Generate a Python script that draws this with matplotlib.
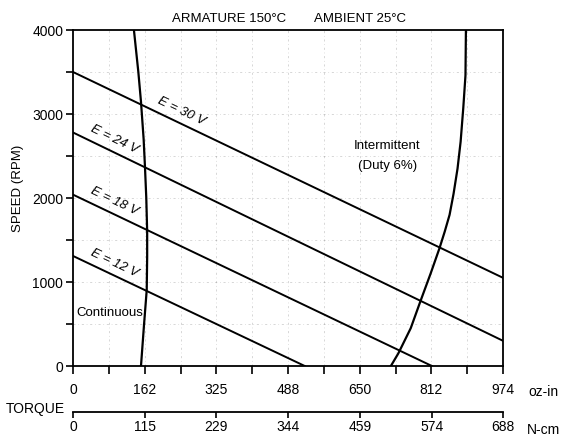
import numpy as np
import matplotlib
matplotlib.use('Agg')
import matplotlib.pyplot as plt

plt.rcParams['font.family'] = ['Liberation Sans', 'DejaVu Sans']

# Curvas de velocidade x torque para cada tensão (oz-in, RPM)
tensoes = ['E = 30 V', 'E = 24 V', 'E = 18 V', 'E = 12 V']
torque_ini = [0, 0, 0, 0]
rpm_ini = [3500, 2780, 2040, 1310]
torque_fim = [974, 974, 813, 525]
rpm_fim = [1050, 300, 0, 0]
# posição (torque) do rótulo de cada reta
torque_rotulo = [245, 93, 93, 93]

# Limite de operação contínua
cont_torque = [138, 148, 154, 160, 163, 166, 168, 168, 167, 161, 154]
cont_rpm = [4000, 3500, 3146, 2700, 2373, 2000, 1599, 1300, 905, 500, 0]

# Limite de operação intermitente (duty 6%)
int_torque = [890, 889, 884, 878, 871, 862, 853, 842, 830, 810, 788, 765, 737, 720]
int_rpm = [4000, 3460, 3070, 2670, 2350, 2050, 1800, 1600, 1400, 1100, 786, 450, 151, 0]

ticks_ozin = [0, 162, 325, 488, 650, 812, 974]
ticks_ncm = [0, 115, 229, 344, 459, 574, 688]
ticks_rpm = [0, 1000, 2000, 3000, 4000]

fig = plt.figure(figsize=(5.63, 4.40), dpi=100)
ax = fig.add_axes([73 / 563, 1 - 366 / 440, 430 / 563, 336 / 440])

ax.set_xlim(0, 974)
ax.set_ylim(0, 4000)

# grade tracejada bem fraca, também nos meios-intervalos
menores_x = [(a + b) / 2 for a, b in zip(ticks_ozin[:-1], ticks_ozin[1:])]
menores_y = [(a + b) / 2 for a, b in zip(ticks_rpm[:-1], ticks_rpm[1:])]
for x in ticks_ozin[1:-1] + menores_x:
    ax.axvline(x, color='0.5', lw=0.5, ls=(0, (3, 4, 1, 4)), alpha=0.45, zorder=1)
for y in ticks_rpm[1:-1] + menores_y:
    ax.axhline(y, color='0.5', lw=0.5, ls=(0, (3, 4, 1, 4)), alpha=0.45, zorder=1)

for nome, t0, r0, t1, r1, tr in zip(tensoes, torque_ini, rpm_ini, torque_fim, rpm_fim, torque_rotulo):
    ax.plot([t0, t1], [r0, r1], color='black', lw=1.4, zorder=3)
    inclin = (r1 - r0) / (t1 - t0)
    ang = np.degrees(np.arctan2(r1 - r0, t1 - t0))
    ax.text(tr, r0 + inclin * (tr - t0) + 150, nome, fontsize=9.5, style='italic',
            rotation=ang, transform_rotates_text=True, rotation_mode='anchor',
            ha='center', va='center', zorder=4)

ax.plot(cont_torque, cont_rpm, color='black', lw=1.6, zorder=3)
ax.plot(int_torque, int_rpm, color='black', lw=1.6, zorder=3)

ax.text(84, 630, 'Continuous', fontsize=9.5, ha='center', va='center')
ax.text(712, 2620, 'Intermittent', fontsize=9.5, ha='center', va='center')
ax.text(712, 2380, '(Duty 6%)', fontsize=9.5, ha='center', va='center')

for s in ax.spines.values():
    s.set_linewidth(1.3)

ax.set_xticks(ticks_ozin)
ax.set_xticklabels([str(t) for t in ticks_ozin])
ax.set_xticks(menores_x, minor=True)
ax.set_yticks(ticks_rpm)
ax.set_yticks(menores_y, minor=True)
ax.tick_params(axis='x', which='both', direction='out', length=5.5, width=1.2, pad=7, labelsize=10)
ax.tick_params(axis='y', which='both', direction='out', length=5, width=1.2, pad=2, labelsize=10)

# segundo eixo de torque em N-cm
ax2 = ax.twiny()
ax2.set_xlim(0, 688)
ax2.xaxis.set_ticks_position('bottom')
ax2.spines['bottom'].set_position(('outward', 33))
for lado in ['top', 'left', 'right']:
    ax2.spines[lado].set_visible(False)
ax2.spines['bottom'].set_linewidth(1.3)
ax2.set_xticks(ticks_ncm)
ax2.set_xticklabels([str(t) for t in ticks_ncm])
ax2.tick_params(axis='x', direction='out', length=4.5, width=1.2, pad=1.5, labelsize=10)

fig.text(18 / 563, 1 - 188 / 440, 'SPEED (RPM)', fontsize=9.5, rotation=90, ha='center', va='center')
fig.text(229 / 563, 1 - 19 / 440, 'ARMATURE 150°C', fontsize=9.5, ha='center', va='center')
fig.text(360 / 563, 1 - 19 / 440, 'AMBIENT 25°C', fontsize=9.5, ha='center', va='center')
fig.text(543 / 563, 1 - 392 / 440, 'oz-in', fontsize=10, ha='center', va='center')
fig.text(543 / 563, 1 - 430 / 440, 'N-cm', fontsize=10, ha='center', va='center')
fig.text(35 / 563, 1 - 409 / 440, 'TORQUE', fontsize=10, ha='center', va='center')

fig.savefig('out.png', dpi=100)
